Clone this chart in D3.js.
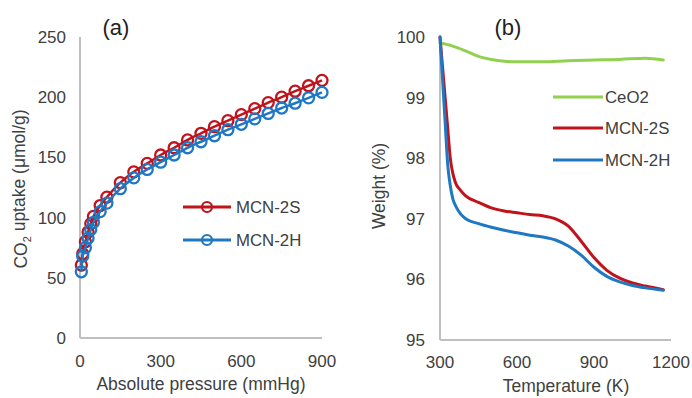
<!DOCTYPE html>
<html><head><meta charset="utf-8">
<script src="https://cdn.jsdelivr.net/npm/d3@7"></script>
<style>
body{margin:0;background:#fff;}
text{font-family:"Liberation Sans",Arial,sans-serif;}
</style></head>
<body><svg id="c" width="692" height="398"></svg>
<script>
// Panel (a) data: CO2 uptake isotherms
const pressure = [5,10,20,30,40,50,75,100,150,200,250,300,350,400,450,500,550,600,650,700,750,800,850,900];
const uptake2S = [60.6,70,80,88,95,101,110,117,129,138,145,152,158,164.5,170,175.5,180.5,185.5,190.5,195.5,200,205,209.5,214];
const uptake2H = [55,68,75,83,90,96,105,112,124,133,140,146,152,158,163,168,173,177.5,182,186.5,191,195,199.5,204];
const aXTicks = [0,300,600,900];
const aYTicks = [0,50,100,150,200,250];

// Panel (b) data: TGA
const tempCe = [300,350,400,450,500,550,600,700,800,900,1000,1100,1170];
const wCe    = [99.9,99.85,99.77,99.68,99.63,99.6,99.59,99.59,99.61,99.62,99.63,99.65,99.62];
const temp = [300,310,320,330,340,350,360,380,400,450,500,550,600,650,700,750,800,850,900,950,1000,1050,1100,1170];
const w2S  = [100,99.5,99.0,98.5,98.0,97.75,97.6,97.47,97.38,97.27,97.18,97.13,97.1,97.07,97.05,97.0,96.88,96.63,96.36,96.15,96.02,95.94,95.89,95.83];
const w2H  = [100,99.3,98.6,97.9,97.55,97.33,97.22,97.08,97.0,96.92,96.86,96.81,96.77,96.73,96.7,96.65,96.55,96.4,96.2,96.05,95.96,95.9,95.86,95.82];
const bXTicks = [300,600,900,1200];
const bYTicks = [95,96,97,98,99,100];

const RED="#C0131B", BLUE="#1F78C4", GREEN="#92D050", AX="#BFBFBF", TXT="#404040";
const FT=17, FA=17.5, FL=16.8;
const svg = d3.select("#c");

// ---------- Panel (a)
const xa = d3.scaleLinear().domain([0,900]).range([80,322]);
const ya = d3.scaleLinear().domain([0,250]).range([338,37]);
const ga = svg.append("g");
ga.append("line").attr("x1",80).attr("x2",80).attr("y1",ya(250)).attr("y2",ya(0)).attr("stroke",AX).attr("stroke-width",2);
ga.append("line").attr("x1",xa(0)).attr("x2",xa(900)).attr("y1",ya(0)).attr("y2",ya(0)).attr("stroke",AX).attr("stroke-width",2);
ga.selectAll(".yt").data(aYTicks).join("text").attr("x",66).attr("y",d=>ya(d)).attr("dy","0.35em")
  .attr("text-anchor","end").attr("font-size",FT).attr("fill",TXT).text(d=>d);
ga.selectAll(".xt").data(aXTicks).join("text").attr("x",d=>xa(d)).attr("y",361).attr("dy","0.35em")
  .attr("text-anchor","middle").attr("font-size",FT).attr("fill",TXT).text(d=>d);
ga.append("text").attr("x",201).attr("y",384).attr("dy","0.35em").attr("text-anchor","middle")
  .attr("font-size",FA).attr("fill",TXT).text("Absolute pressure (mmHg)");
const yl = ga.append("text").attr("transform","translate(21,189) rotate(-90)").attr("text-anchor","middle")
  .attr("dy","0.35em").attr("font-size",FA).attr("fill",TXT);
yl.append("tspan").text("CO");
yl.append("tspan").attr("font-size",11).attr("dy","0.35em").text("2");
yl.append("tspan").attr("dy","-0.35em").text(" uptake (μmol/g)");
ga.append("text").attr("x",116).attr("y",27).attr("dy","0.35em").attr("text-anchor","middle")
  .attr("font-size",22).attr("fill","#222").text("(a)");

const lineA = d3.line().x(d=>xa(d[0])).y(d=>ya(d[1])).curve(d3.curveMonotoneX);
[[uptake2S,RED],[uptake2H,BLUE]].forEach(([vals,col])=>{
  const pts = pressure.map((p,i)=>[p,vals[i]]);
  ga.append("path").attr("d",lineA(pts)).attr("fill","none").attr("stroke",col).attr("stroke-width",2.5);
  ga.selectAll(null).data(pts).join("circle").attr("cx",d=>xa(d[0])).attr("cy",d=>ya(d[1])).attr("r",5.5)
    .attr("fill","none").attr("stroke",col).attr("stroke-width",2.3);
});
// legend (a)
[["MCN-2S",RED,207],["MCN-2H",BLUE,240]].forEach(([n,c,y])=>{
  ga.append("line").attr("x1",183).attr("x2",231).attr("y1",y).attr("y2",y).attr("stroke",c).attr("stroke-width",3);
  ga.append("circle").attr("cx",207).attr("cy",y).attr("r",5).attr("fill","none").attr("stroke",c).attr("stroke-width",2.2);
  ga.append("text").attr("x",236).attr("y",y).attr("dy","0.35em").attr("font-size",FL).attr("fill",TXT).text(n);
});

// ---------- Panel (b)
const xb = d3.scaleLinear().domain([300,1200]).range([440,671]);
const yb = d3.scaleLinear().domain([95,100]).range([340,37]);
const gb = svg.append("g");
gb.append("line").attr("x1",440).attr("x2",440).attr("y1",yb(100)).attr("y2",yb(95)).attr("stroke",AX).attr("stroke-width",2);
gb.append("line").attr("x1",xb(300)).attr("x2",xb(1200)).attr("y1",yb(95)).attr("y2",yb(95)).attr("stroke",AX).attr("stroke-width",2);
gb.selectAll(".yt").data(bYTicks).join("text").attr("x",425).attr("y",d=>yb(d)).attr("dy","0.35em")
  .attr("text-anchor","end").attr("font-size",FT).attr("fill",TXT).text(d=>d);
gb.selectAll(".xt").data(bXTicks).join("text").attr("x",d=>xb(d)).attr("y",362).attr("dy","0.35em")
  .attr("text-anchor","middle").attr("font-size",FT).attr("fill",TXT).text(d=>d);
gb.append("text").attr("x",566).attr("y",386).attr("dy","0.35em").attr("text-anchor","middle")
  .attr("font-size",FA).attr("fill",TXT).text("Temperature (K)");
gb.append("text").attr("transform","translate(379,186) rotate(-90)").attr("text-anchor","middle")
  .attr("dy","0.35em").attr("font-size",FA).attr("fill",TXT).text("Weight (%)");
gb.append("text").attr("x",508).attr("y",27).attr("dy","0.35em").attr("text-anchor","middle")
  .attr("font-size",22).attr("fill","#222").text("(b)");

const lineB = d3.line().x(d=>xb(d[0])).y(d=>yb(d[1])).curve(d3.curveMonotoneX);
[[tempCe,wCe,GREEN],[temp,w2S,RED],[temp,w2H,BLUE]].forEach(([ts,ws,col])=>{
  gb.append("path").attr("d",lineB(ts.map((t,i)=>[t,ws[i]]))).attr("fill","none").attr("stroke",col)
    .attr("stroke-width",3).attr("stroke-linejoin","round").attr("stroke-linecap","round");
});
[["CeO2",GREEN,97],["MCN-2S",RED,128],["MCN-2H",BLUE,160]].forEach(([n,c,y])=>{
  gb.append("line").attr("x1",553).attr("x2",603).attr("y1",y).attr("y2",y).attr("stroke",c).attr("stroke-width",3);
  gb.append("text").attr("x",605).attr("y",y).attr("dy","0.35em").attr("font-size",FL).attr("fill",TXT).text(n);
});
</script></body></html>
